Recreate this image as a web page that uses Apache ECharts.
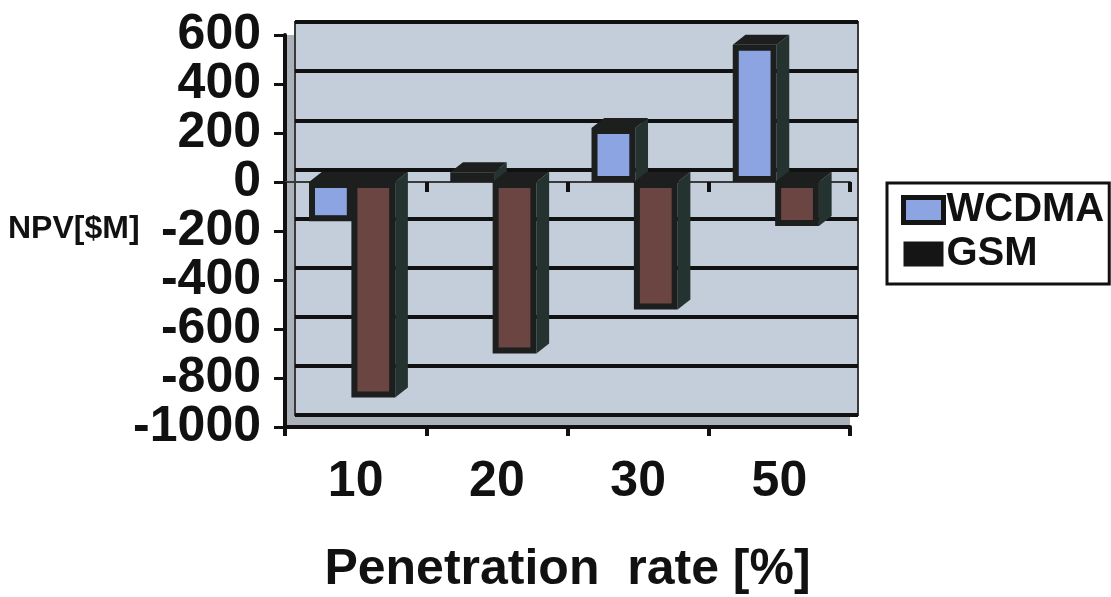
<!DOCTYPE html>
<html>
<head>
<meta charset="utf-8">
<title>NPV vs penetration rate</title>
<script src="https://cdn.jsdelivr.net/npm/echarts@6/dist/echarts.min.js"></script>
<style>
  html, body { margin: 0; padding: 0; background: #ffffff; }
  #chart { width: 1111px; height: 597px; }
</style>
</head>
<body>
<div id="chart"></div>
<script>
// Penetration rate categories [%]
const categories = ['10', '20', '30', '50'];
// Net present value per technology [$M]
const wcdma = [-160, 40, 220, 560];
const gsm = [-880, -700, -520, -180];
// Value axis range
const yMin = -1000;
const yMax = 600;
const yStep = 200;

const FONT = '"Liberation Sans", Arial, Helvetica, sans-serif';
const BLUE = '#8ca4e2';
const BROWN = '#6b4542';
const EDGE = '#1d1f1e';
const SIDE = '#243230';

// Pseudo-3D column: front face with a thick dark rim, plus top and right faces.
function columnRenderer(slot, faceColor) {
  return function (params, api) {
    const ci = api.value(0);
    const v = api.value(1);
    const base = api.coord([ci, 0]);
    const tip = api.coord([ci, v]);
    const cw = api.size([1, 0])[0];
    const c = base[0];
    const w = cw * 0.31;
    const x0 = slot === 0 ? c - cw * 0.33 : c - cw * 0.03;
    const x1 = x0 + w;
    const yTop = Math.min(base[1], tip[1]);
    const yBot = Math.max(base[1], tip[1]);
    const dx = cw * 0.09;
    const dy = -10;
    const rim = 6;
    const children = [
      {
        type: 'polygon',
        shape: { points: [[x1, yTop], [x1 + dx, yTop + dy], [x1 + dx, yBot + dy], [x1, yBot]] },
        style: { fill: SIDE }
      },
      {
        type: 'polygon',
        shape: { points: [[x0, yTop], [x0 + dx, yTop + dy], [x1 + dx, yTop + dy], [x1, yTop]] },
        style: { fill: EDGE }
      },
      {
        type: 'rect',
        shape: { x: x0, y: yTop, width: w, height: yBot - yTop },
        style: { fill: EDGE }
      }
    ];
    if (yBot - yTop > rim * 2) {
      children.push({
        type: 'rect',
        shape: { x: x0 + rim, y: yTop + rim, width: w - rim * 2, height: yBot - yTop - rim * 2 },
        style: { fill: faceColor }
      });
    }
    return { type: 'group', children: children };
  };
}

// Tick labels are large relative to their spacing, so they are split over two
// coincident axes (alternate ticks each) to keep every one of them visible.
function tickLabels(parity) {
  return {
    margin: 24,
    fontFamily: FONT,
    fontSize: 50,
    fontWeight: 'bold',
    color: '#111',
    showMinLabel: true,
    showMaxLabel: true,
    formatter: function (v) {
      const k = Math.round((v - yMin) / yStep);
      return k % 2 === parity ? String(v) : '';
    }
  };
}

const chart = echarts.init(document.getElementById('chart'), null, { renderer: 'canvas' });

chart.setOption({
  backgroundColor: '#ffffff',
  animation: false,
  textStyle: { fontFamily: FONT },
  title: {
    text: 'NPV[$M]',
    left: 8,
    top: 213,
    padding: 0,
    textStyle: { fontFamily: FONT, fontSize: 32, fontWeight: 'bold', color: '#111' }
  },
  legend: {
    orient: 'vertical',
    left: 887,
    top: 183,
    padding: [7, 5, 10, 14],
    itemGap: 4,
    itemWidth: 40,
    itemHeight: 25,
    icon: 'rect',
    backgroundColor: '#ffffff',
    borderColor: '#111',
    borderWidth: 3,
    borderRadius: 0,
    textStyle: { fontFamily: FONT, fontSize: 40, fontWeight: 'bold', color: '#111', padding: [0, 0, 0, -2] },
    data: [
      { name: 'WCDMA', itemStyle: { color: BLUE, borderColor: '#151515', borderWidth: 5 } },
      { name: 'GSM', itemStyle: { color: '#151515' } }
    ]
  },
  grid: [
    // front plane: floor and side wall, carries the labelled axes
    { left: 285, right: 261, top: 35, bottom: 170, containLabel: false, outerBoundsMode: 'none',
      show: true, backgroundColor: '#aab1b9', borderWidth: 0 },
    // back wall with gridlines
    { left: 295, right: 253, top: 22, bottom: 182, containLabel: false, outerBoundsMode: 'none',
      show: true, backgroundColor: '#c4cedb', borderColor: '#3a3a3a', borderWidth: 2 }
  ],
  xAxis: [
    {
      type: 'category',
      gridIndex: 0,
      data: categories,
      position: 'bottom',
      name: 'Penetration  rate [%]',
      nameLocation: 'middle',
      nameGap: 118,
      nameTextStyle: { fontFamily: FONT, fontSize: 50, fontWeight: 'bold', color: '#111' },
      axisLine: { onZero: false, lineStyle: { color: '#111', width: 4 } },
      axisTick: { show: true, length: 9, lineStyle: { color: '#111', width: 4 } },
      axisLabel: { margin: 30, fontFamily: FONT, fontSize: 50, fontWeight: 'bold', color: '#111', interval: 0 },
      splitLine: { show: false }
    },
    {
      type: 'category',
      gridIndex: 1,
      data: categories,
      show: false
    },
    {
      // category line at zero with its tick marks
      type: 'category',
      gridIndex: 0,
      data: categories,
      position: 'bottom',
      axisLine: { onZero: true, lineStyle: { color: '#3a3a3a', width: 2 } },
      axisTick: { show: true, length: 10, lineStyle: { color: '#111', width: 4 } },
      axisLabel: { show: false },
      splitLine: { show: false }
    }
  ],
  yAxis: [
    {
      type: 'value',
      gridIndex: 0,
      position: 'left',
      offset: 0,
      min: yMin,
      max: yMax,
      interval: yStep,
      axisLine: { show: true, lineStyle: { color: '#111', width: 4 } },
      axisTick: { show: true, length: 11, lineStyle: { color: '#111', width: 3 } },
      axisLabel: tickLabels(0),
      splitLine: { show: false }
    },
    {
      type: 'value',
      gridIndex: 1,
      min: yMin,
      max: yMax,
      interval: yStep,
      axisLine: { show: false },
      axisTick: { show: false },
      axisLabel: { show: false },
      splitLine: { show: true, lineStyle: { color: '#111', width: 4 } }
    },
    {
      type: 'value',
      gridIndex: 0,
      position: 'left',
      offset: 0,
      min: yMin,
      max: yMax,
      interval: yStep,
      axisLine: { show: false },
      axisTick: { show: false },
      axisLabel: tickLabels(1),
      splitLine: { show: false }
    }
  ],
  series: [
    {
      name: 'WCDMA',
      type: 'custom',
      xAxisIndex: 0,
      yAxisIndex: 0,
      itemStyle: { color: BLUE },
      clip: false,
      data: wcdma.map((v, i) => [i, v]),
      encode: { x: 0, y: 1 },
      renderItem: columnRenderer(0, BLUE)
    },
    {
      name: 'GSM',
      type: 'custom',
      xAxisIndex: 0,
      yAxisIndex: 0,
      itemStyle: { color: BROWN },
      clip: false,
      data: gsm.map((v, i) => [i, v]),
      encode: { x: 0, y: 1 },
      renderItem: columnRenderer(1, BROWN)
    }
  ]
});
</script>
</body>
</html>
